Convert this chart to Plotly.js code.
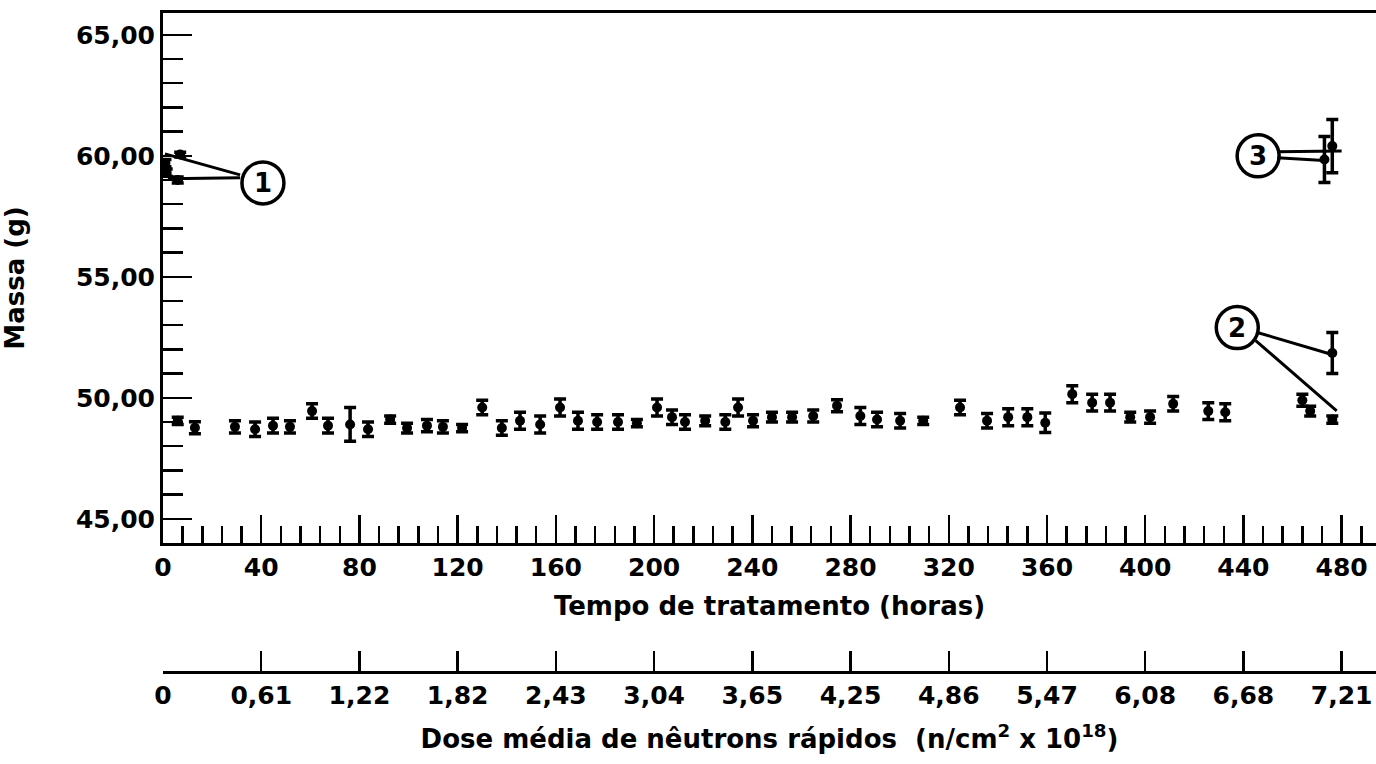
<!DOCTYPE html>
<html>
<head>
<meta charset="utf-8">
<script src="https://cdn.plot.ly/plotly-3.0.1.min.js"></script>
<style>html,body{margin:0;padding:0;background:#fff;}#chart{width:1376px;height:764px;}</style>
</head>
<body>
<div id="chart"></div>
<script>
// ---- Data ----
// Main series: mass (g) vs treatment time (hours), with error half-widths
const hours = [6, 13, 29.3, 37.5, 44.8, 51.7, 60.7, 67.2, 76.2, 83.5, 92.5, 99.4, 107.5, 114, 121.8,
  130, 138, 145.4, 153.6, 161.7, 169, 176.8, 185.3, 193, 201.2, 207.3, 212.6, 220.8, 229, 234.2,
  240.3, 248, 256.2, 264.8, 274.5, 284, 290.8, 300.2, 309.6, 324.6, 335.6, 344.2, 352, 359.3,
  370.3, 378.4, 385.7, 393.9, 402, 411.4, 425.7, 432.6];
const mass = [49.05, 48.76, 48.8, 48.7, 48.85, 48.8, 49.45, 48.85, 48.9, 48.7, 49.1, 48.75, 48.85, 48.8, 48.75,
  49.6, 48.75, 49.05, 48.9, 49.6, 49.05, 49.0, 49.0, 48.95, 49.6, 49.2, 49.0, 49.05, 49.0, 49.6,
  49.05, 49.2, 49.2, 49.25, 49.67, 49.25, 49.1, 49.05, 49.05, 49.6, 49.05, 49.2, 49.2, 48.97,
  50.15, 49.8, 49.8, 49.2, 49.2, 49.75, 49.45, 49.4];
const massErr = [0.15, 0.25, 0.25, 0.3, 0.3, 0.25, 0.3, 0.3, 0.7, 0.3, 0.15, 0.2, 0.25, 0.25, 0.15,
  0.3, 0.3, 0.35, 0.35, 0.35, 0.35, 0.3, 0.3, 0.15, 0.35, 0.3, 0.3, 0.2, 0.3, 0.35,
  0.25, 0.2, 0.2, 0.25, 0.25, 0.35, 0.3, 0.3, 0.15, 0.3, 0.3, 0.35, 0.35, 0.4,
  0.35, 0.35, 0.35, 0.2, 0.25, 0.3, 0.35, 0.35];

// Group 1 (start of treatment)
const g1Hours = [1, 7, 1.5, 6];
const g1Mass = [59.7, 60.05, 59.3, 59.0];
const g1Err = [0.15, 0.1, 0.15, 0.12];

// Group 2 (end of treatment)
const g2Hours = [464, 467.2, 476.2, 476.2];
const g2Mass = [49.9, 49.45, 49.1, 51.85];
const g2Err = [0.25, 0.2, 0.15, 0.85];

// Group 3 (end of treatment)
const g3Hours = [476.2, 473];
const g3Mass = [60.4, 59.85];
const g3Err = [1.1, 0.95];

// Secondary axis: mean fast-neutron dose at each 40 h
const doseHours = [0, 40, 80, 120, 160, 200, 240, 280, 320, 360, 400, 440, 480];
const doseLabels = ['0', '0,61', '1,22', '1,82', '2,43', '3,04', '3,65', '4,25', '4,86', '5,47', '6,08', '6,68', '7,21'];

// Call-out labels
const calloutLabels = ['1', '2', '3'];
const calloutHours = [40.7, 437.5, 446];
const calloutMass = [58.88, 52.9, 60.0];
// leader lines: [fromHour, fromMass, toHour, toMass]
const leaders = [
  [31.4, 59.21, 0.8, 60.08], [31.4, 59.09, 2.0, 59.05],
  [446, 52.69, 475, 51.82], [445, 52.36, 478, 49.46],
  [453.8, 60.17, 480, 60.2], [453.8, 59.92, 474.5, 59.8]
];

// ---- Styling ----
const FAM = 'DejaVu Sans, Liberation Sans, sans-serif';
const INK = '#000';
const tickFont = {family: FAM, size: 25, color: INK, weight: 'bold'};
const titleFont = {family: FAM, size: 26, color: INK, weight: 'bold'};

function errTrace(x, y, e, xaxis) {
  return {
    type: 'scatter', mode: 'markers', x: x, y: y, xaxis: xaxis || 'x', yaxis: 'y',
    marker: {color: INK, size: 10, symbol: 'circle'},
    error_y: {type: 'data', array: e, visible: true, color: INK, thickness: 3.5, width: 6},
    hoverinfo: 'x+y', showlegend: false
  };
}

const traces = [
  errTrace(hours, mass, massErr),
  errTrace(g1Hours, g1Mass, g1Err),
  errTrace(g2Hours, g2Mass, g2Err),
  errTrace(g3Hours, g3Mass, g3Err),
  {type: 'scatter', mode: 'markers', x: doseHours, y: doseHours.map(() => null), xaxis: 'x2', yaxis: 'y',
   marker: {opacity: 0}, hoverinfo: 'skip', showlegend: false}
];

const shapes = [];
const annotations = [];
calloutLabels.forEach((lab, i) => {
  shapes.push({type: 'circle', xref: 'x', yref: 'y', xsizemode: 'pixel', ysizemode: 'pixel',
    xanchor: calloutHours[i], yanchor: calloutMass[i], x0: -21, x1: 21, y0: -21, y1: 21,
    line: {color: INK, width: 3.5}, fillcolor: 'rgba(0,0,0,0)'});
  annotations.push({xref: 'x', yref: 'y', x: calloutHours[i], y: calloutMass[i], text: lab,
    showarrow: false, font: {family: FAM, size: 26, color: INK, weight: 'bold'}});
});
leaders.forEach(l => {
  shapes.push({type: 'line', xref: 'x', yref: 'y', x0: l[0], y0: l[1], x1: l[2], y1: l[3],
    line: {color: INK, width: 3}});
});

const H = 764, T = 13, B = 0;
const paperH = H - T - B;
const plotBottomPx = 543, doseAxisPx = 672;

const layout = {
  width: 1376, height: 764,
  margin: {l: 163, r: 0, t: T, b: B},
  paper_bgcolor: '#fff', plot_bgcolor: '#fff',
  separators: ',.',
  font: tickFont,
  showlegend: false,
  xaxis: {
    range: [0, 494], showgrid: false, zeroline: false,
    showline: true, linecolor: INK, linewidth: 3, mirror: true,
    ticks: 'inside', tickmode: 'linear', tick0: 0, dtick: 40, ticklen: 28, tickwidth: 2.5, tickcolor: INK,
    minor: {ticks: 'inside', dtick: 8, tick0: 0, ticklen: 17, tickwidth: 2.5, tickcolor: INK},
    tickfont: tickFont,
    title: {text: 'Tempo de tratamento (horas)', standoff: 16, font: titleFont}
  },
  xaxis2: {
    overlaying: 'x', anchor: 'free', position: (H - doseAxisPx) / paperH, side: 'bottom',
    range: [0, 494], showgrid: false, zeroline: false,
    showline: true, linecolor: INK, linewidth: 3,
    ticks: 'inside', tickmode: 'array', tickvals: doseHours, ticktext: doseLabels,
    ticklen: 20, tickwidth: 2.5, tickcolor: INK,
    tickfont: tickFont,
    title: {text: 'Dose média de nêutrons rápidos  (n/cm<sup>2</sup> x 10<sup>18</sup>)', standoff: 20, font: titleFont}
  },
  yaxis: {
    domain: [(H - plotBottomPx) / paperH, 1],
    range: [44, 65.9], showgrid: false, zeroline: false,
    showline: true, linecolor: INK, linewidth: 3,
    ticks: 'inside', tickmode: 'linear', tick0: 45, dtick: 5, ticklen: 29, tickwidth: 2.5, tickcolor: INK,
    minor: {ticks: 'inside', dtick: 1, tick0: 45, ticklen: 20, tickwidth: 2.5, tickcolor: INK},
    tickformat: '.2f',
    tickfont: tickFont,
    title: {text: 'Massa (g)', standoff: 44, font: titleFont}
  },
  shapes: shapes,
  annotations: annotations
};

Plotly.newPlot('chart', traces, layout, {displayModeBar: false, staticPlot: true});
</script>
</body>
</html>
